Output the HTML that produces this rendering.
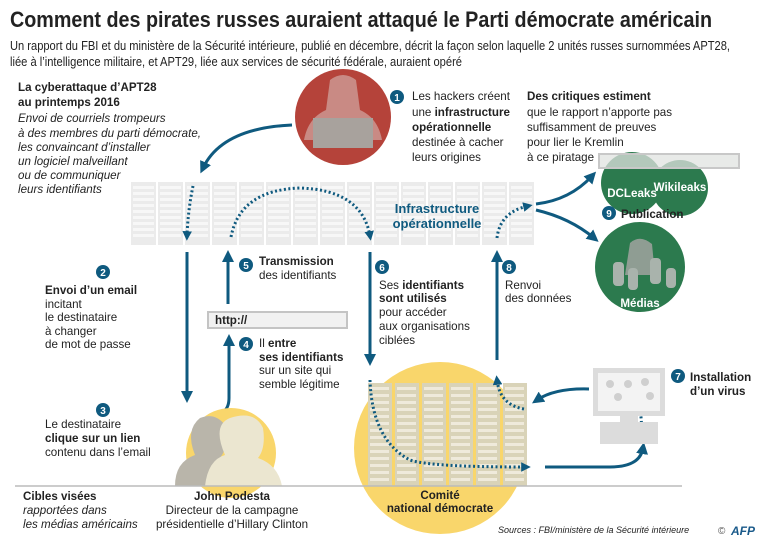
<!DOCTYPE html>
<html><head><meta charset="utf-8"><style>
html,body{margin:0;padding:0;background:#fff;}
svg{display:block;}
text{font-family:"Liberation Sans Narrow","Liberation Sans",sans-serif;fill:#222;font-size:11.6px;}
.b{font-weight:bold;}
.i{font-style:italic;}
.bl{fill:#0f5a7f;}
.w{fill:#fff;}
</style></head><body>
<svg width="768" height="542" viewBox="0 0 768 542" xmlns="http://www.w3.org/2000/svg">
<defs>
<pattern id="rack" x="130" y="182" width="27" height="63" patternUnits="userSpaceOnUse">
<rect x="1" y="0" width="25" height="63" fill="#ebebeb"/>
<g fill="#f7f7f7">
<rect x="3" y="4" width="21" height="3"/><rect x="3" y="10" width="21" height="3"/><rect x="3" y="16" width="21" height="3"/><rect x="3" y="22" width="21" height="3"/><rect x="3" y="28" width="21" height="3"/><rect x="3" y="34" width="21" height="3"/><rect x="3" y="40" width="21" height="3"/><rect x="3" y="46" width="21" height="3"/><rect x="3" y="52" width="21" height="3"/>
</g>
</pattern>
<pattern id="rack2" x="367" y="383" width="27" height="103" patternUnits="userSpaceOnUse">
<rect x="1" y="0" width="24" height="103" fill="#d9d3b8"/>
<g fill="#efeadb">
<rect x="3" y="4" width="19" height="3"/><rect x="3" y="11" width="19" height="3"/><rect x="3" y="18" width="19" height="3"/><rect x="3" y="25" width="19" height="3"/><rect x="3" y="32" width="19" height="3"/><rect x="3" y="39" width="19" height="3"/><rect x="3" y="46" width="19" height="3"/><rect x="3" y="53" width="19" height="3"/><rect x="3" y="60" width="19" height="3"/><rect x="3" y="67" width="19" height="3"/><rect x="3" y="74" width="19" height="3"/><rect x="3" y="81" width="19" height="3"/><rect x="3" y="88" width="19" height="3"/><rect x="3" y="95" width="19" height="3"/>
</g>
</pattern>
<marker id="ah" viewBox="0 0 10 10" refX="5" refY="5" markerWidth="4" markerHeight="4" orient="auto"><path d="M0,0 L10,5 L0,10 z" fill="#0f5a7f"/></marker>
<marker id="ahd" viewBox="0 0 10 10" refX="5" refY="5" markerWidth="3.2" markerHeight="3.2" orient="auto"><path d="M0,0 L10,5 L0,10 z" fill="#0f5a7f"/></marker>
</defs>

<text x="10" y="27" class="b" style="font-size:22px" textLength="702" lengthAdjust="spacingAndGlyphs">Comment des pirates russes auraient attaqué le Parti démocrate américain</text>
<text x="10" y="50" style="font-size:12.5px" textLength="720" lengthAdjust="spacingAndGlyphs">Un rapport du FBI et du ministère de la Sécurité intérieure, publié en décembre, décrit la façon selon laquelle 2 unités russes surnommées APT28,</text>
<text x="10" y="66" style="font-size:12.5px" textLength="452" lengthAdjust="spacingAndGlyphs">liée à l’intelligence militaire, et APT29, liée aux services de sécurité fédérale, auraient opéré</text>

<text x="18" y="91" class="b">La cyberattaque d’APT28</text>
<text x="18" y="106" class="b">au printemps 2016</text>
<text x="18" y="122" class="i">Envoi de courriels trompeurs</text>
<text x="18" y="137" class="i">à des membres du parti démocrate,</text>
<text x="18" y="151" class="i">les convaincant d’installer</text>
<text x="18" y="165" class="i">un logiciel malveillant</text>
<text x="18" y="179" class="i">ou de communiquer</text>
<text x="18" y="193" class="i">leurs identifiants</text>

<circle cx="343" cy="117" r="48" fill="#b5433a"/>
<path d="M330,80 Q343,70 356,80 L360,110 Q378,118 382,140 L304,140 Q308,118 326,110 Z" fill="#c98a84"/>
<rect x="313" y="118" width="60" height="30" fill="#a8a29d"/>
<path d="M292,125 Q222,128 203,168" fill="none" stroke="#0f5a7f" stroke-width="3" marker-end="url(#ah)"/>

<circle cx="397" cy="97" r="7" fill="#0f5a7f"/><text x="397" y="101" class="b w" text-anchor="middle" style="font-size:10px">1</text>
<text x="412" y="100">Les hackers créent</text>
<text x="412" y="116">une <tspan class="b">infrastructure</tspan></text>
<text x="412" y="131" class="b">opérationnelle</text>
<text x="412" y="146">destinée à cacher</text>
<text x="412" y="161">leurs origines</text>

<text x="527" y="100" class="b">Des critiques estiment</text>
<text x="527" y="116">que le rapport n’apporte pas</text>
<text x="527" y="131">suffisamment de preuves</text>
<text x="527" y="146">pour lier le Kremlin</text>
<text x="527" y="161">à ce piratage</text>

<rect x="130" y="182" width="405" height="63" fill="url(#rack)"/>
<text x="437" y="213" class="b bl" text-anchor="middle" style="font-size:13px">Infrastructure</text>
<text x="437" y="228" class="b bl" text-anchor="middle" style="font-size:13px">opérationnelle</text>
<g fill="none" stroke="#0f5a7f" stroke-width="3" stroke-dasharray="2 2.5">
<path d="M193,186 Q188,210 187,236" marker-end="url(#ahd)"/>
<path d="M231,237 Q240,190 300,188 Q362,190 370,236" marker-end="url(#ahd)"/>
<path d="M497,238 Q500,212 528,206" marker-end="url(#ahd)"/>
</g>

<circle cx="632" cy="183" r="31" fill="#2c7a4e"/>
<circle cx="680" cy="188" r="28" fill="#2c7a4e"/>
<rect x="599" y="154" width="140" height="14" fill="#e0e3e0" fill-opacity="0.75" stroke="#c8c8c8" stroke-width="2"/>
<text x="632" y="197" class="b w" text-anchor="middle">DCLeaks</text>
<text x="680" y="191" class="b w" text-anchor="middle">Wikileaks</text>
<circle cx="609" cy="213" r="7" fill="#0f5a7f"/><text x="609" y="217" class="b w" text-anchor="middle" style="font-size:10px">9</text>
<text x="621" y="218" class="b">Publication</text>
<circle cx="640" cy="267" r="45" fill="#2c7a4e"/>
<path d="M630,243 Q640,234 652,244 L655,275 L625,275 Z" fill="#8f9d93"/>
<g fill="#a9b3ac"><rect x="613" y="262" width="11" height="24" rx="4"/><rect x="628" y="268" width="10" height="22" rx="4"/><rect x="650" y="258" width="11" height="26" rx="4"/><rect x="666" y="268" width="10" height="20" rx="4"/></g>
<text x="640" y="307" class="b w" text-anchor="middle">Médias</text>
<path d="M536,204 Q570,200 592,176" fill="none" stroke="#0f5a7f" stroke-width="3" marker-end="url(#ah)"/>
<path d="M536,210 Q570,218 594,238" fill="none" stroke="#0f5a7f" stroke-width="3" marker-end="url(#ah)"/>

<g fill="none" stroke="#0f5a7f" stroke-width="3">
<path d="M187,252 L187,397" marker-end="url(#ah)"/>
<path d="M228,304 L228,256" marker-end="url(#ah)"/>
<path d="M223,412 Q229,408 229,398 L229,340" marker-end="url(#ah)"/>
<path d="M370,252 L370,360" marker-end="url(#ah)"/>
<path d="M497,360 L497,256" marker-end="url(#ah)"/>
</g>

<circle cx="103" cy="272" r="7" fill="#0f5a7f"/><text x="103" y="276" class="b w" text-anchor="middle" style="font-size:10px">2</text>
<text x="45" y="294" class="b">Envoi d’un email</text>
<text x="45" y="308">incitant</text>
<text x="45" y="321">le destinataire</text>
<text x="45" y="335">à changer</text>
<text x="45" y="348">de mot de passe</text>
<circle cx="103" cy="410" r="7" fill="#0f5a7f"/><text x="103" y="414" class="b w" text-anchor="middle" style="font-size:10px">3</text>
<text x="45" y="428">Le destinataire</text>
<text x="45" y="442" class="b">clique sur un lien</text>
<text x="45" y="456">contenu dans l’email</text>

<circle cx="246" cy="265" r="7" fill="#0f5a7f"/><text x="246" y="269" class="b w" text-anchor="middle" style="font-size:10px">5</text>
<text x="259" y="265" class="b">Transmission</text>
<text x="259" y="279">des identifiants</text>
<rect x="208" y="312" width="139" height="16" fill="#f1f1f1" stroke="#c4c4c4" stroke-width="2"/>
<text x="215" y="324" class="b">http://</text>
<circle cx="246" cy="344" r="7" fill="#0f5a7f"/><text x="246" y="348" class="b w" text-anchor="middle" style="font-size:10px">4</text>
<text x="259" y="347">Il <tspan class="b">entre</tspan></text>
<text x="259" y="361" class="b">ses identifiants</text>
<text x="259" y="374">sur un site qui</text>
<text x="259" y="388">semble légitime</text>

<circle cx="382" cy="267" r="7" fill="#0f5a7f"/><text x="382" y="271" class="b w" text-anchor="middle" style="font-size:10px">6</text>
<text x="379" y="289">Ses <tspan class="b">identifiants</tspan></text>
<text x="379" y="302"><tspan class="b">sont utilisés</tspan></text>
<text x="379" y="316">pour accéder</text>
<text x="379" y="330">aux organisations</text>
<text x="379" y="344">ciblées</text>
<circle cx="509" cy="267" r="7" fill="#0f5a7f"/><text x="509" y="271" class="b w" text-anchor="middle" style="font-size:10px">8</text>
<text x="505" y="289">Renvoi</text>
<text x="505" y="302">des données</text>

<circle cx="231" cy="453" r="45" fill="#f9d66b"/>
<path d="M175,486 Q175,462 195,455 Q185,430 200,418 Q215,412 225,425 Q230,445 220,458 Q240,462 245,486 Z" fill="#b9b5aa"/>
<path d="M205,486 Q208,460 225,455 Q212,425 230,418 Q255,410 263,428 Q266,448 258,458 Q278,465 282,486 Z" fill="#ebe6d0"/>

<circle cx="440" cy="448" r="86" fill="#f9d66b"/>
<rect x="366" y="383" width="162" height="103" fill="url(#rack2)"/>
<line x1="15" y1="486" x2="682" y2="486" stroke="#bbb" stroke-width="1.5"/>
<text x="440" y="499" class="b" text-anchor="middle">Comité</text>
<text x="440" y="512" class="b" text-anchor="middle">national démocrate</text>
<g fill="none" stroke="#0f5a7f" stroke-width="3" stroke-dasharray="2 2.5">
<path d="M370,380 Q372,440 410,460 Q430,467 526,467" marker-end="url(#ahd)"/>
<path d="M524,409 Q500,405 497,380" marker-end="url(#ahd)"/>
<path d="M641,432 Q645,392 610,389" marker-end="url(#ahd)"/>
</g>
<path d="M545,467 L610,467 Q640,467 643,448" fill="none" stroke="#0f5a7f" stroke-width="3" marker-end="url(#ah)"/>
<path d="M589,389 Q555,388 537,400" fill="none" stroke="#0f5a7f" stroke-width="3" marker-end="url(#ah)"/>

<rect x="593" y="368" width="72" height="48" fill="#dcdcdc"/>
<rect x="598" y="373" width="62" height="38" fill="#f3f3f3"/>
<g fill="#cfcfcf"><circle cx="610" cy="384" r="4"/><circle cx="628" cy="384" r="4"/><circle cx="645" cy="382" r="4"/><circle cx="618" cy="397" r="4"/><circle cx="650" cy="396" r="4"/></g>
<rect x="620" y="416" width="18" height="6" fill="#dcdcdc"/>
<rect x="600" y="422" width="58" height="22" fill="#dcdcdc"/>
<circle cx="678" cy="376" r="7" fill="#0f5a7f"/><text x="678" y="380" class="b w" text-anchor="middle" style="font-size:10px">7</text>
<text x="690" y="381" class="b">Installation</text>
<text x="690" y="395" class="b">d’un virus</text>

<text x="23" y="500" class="b">Cibles visées</text>
<text x="23" y="514" class="i">rapportées dans</text>
<text x="23" y="528" class="i">les médias américains</text>
<text x="232" y="500" class="b" text-anchor="middle">John Podesta</text>
<text x="232" y="514" text-anchor="middle">Directeur de la campagne</text>
<text x="232" y="528" text-anchor="middle">présidentielle d’Hillary Clinton</text>
<text x="498" y="533" class="i" style="font-size:9px">Sources :  FBI/ministère de la Sécurité intérieure</text>
<text x="718" y="534" style="font-size:10px;fill:#555">©</text>
<text x="731" y="535" class="b i" style="font-size:12px;fill:#1a5a8a">AFP</text>
</svg>
</body></html>
